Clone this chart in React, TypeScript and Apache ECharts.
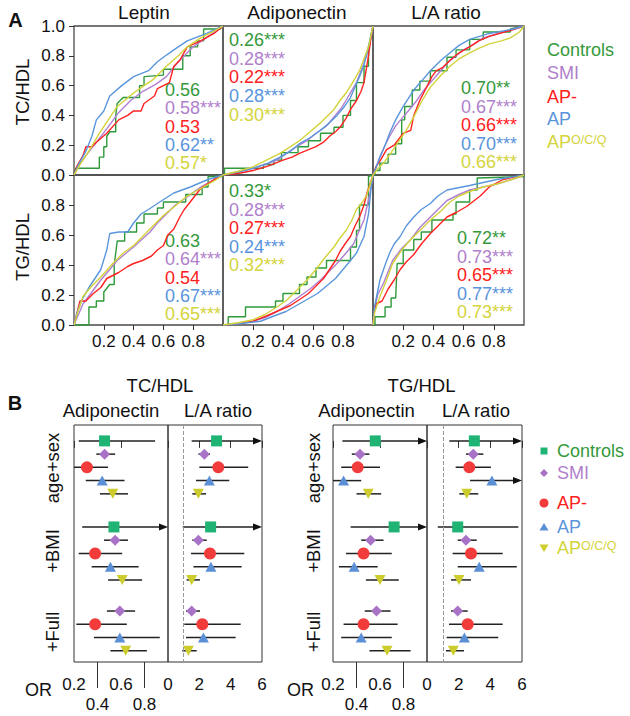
import React, { useEffect, useRef } from "react";
import * as echarts from "echarts";

const FONT = "'Liberation Sans', Arial, Helvetica, sans-serif";

// ---------- groups ----------
const groupNames = ["Controls", "SMI", "AP-", "AP", "APO/C/Q"];
const lineColors = ["#2f9a3a", "#b07fd0", "#ff2222", "#5a96dc", "#d2d23a"];
const textColors = ["#35993a", "#b07fcc", "#ff2020", "#5a94dc", "#d4d43c"];
const markerColors = ["#20b474", "#a872c6", "#f23c3c", "#5b8fd6", "#cccc2c"];
const markerSymbols = ["rect", "diamond", "circle", "triangle", "triangle"];

// ---------- panel A labels ----------
const panelTitlesA = ["Leptin", "Adiponectin", "L/A ratio"];
const rowTitlesA = ["TC/HDL", "TG/HDL"];
const xTicksA = [0.2, 0.4, 0.6, 0.8];
const yTicksRow1 = [0, 0.2, 0.4, 0.6, 0.8, 1];
const yTicksRow2 = [0, 0.2, 0.4, 0.6, 0.8];

// ---------- ROC curves [FPR, TPR] : Controls, SMI, AP-, AP, APO/C/Q ----------
const rocLeptinTC = [
  [[0,0],[0.01,0.045],[0.17,0.045],[0.17,0.12],[0.2,0.12],[0.2,0.19],[0.22,0.19],[0.22,0.26],[0.24,0.29],[0.28,0.29],[0.28,0.4],[0.29,0.48],[0.33,0.52],[0.44,0.52],[0.44,0.6],[0.47,0.6],[0.47,0.66],[0.6,0.67],[0.6,0.71],[0.73,0.71],[0.73,0.8],[0.78,0.8],[0.78,0.86],[0.83,0.86],[0.83,0.9],[0.87,0.9],[0.87,0.98],[0.98,0.98],[1,1]],
  [[0,0],[0.03,0.06],[0.08,0.13],[0.15,0.22],[0.22,0.31],[0.3,0.42],[0.38,0.5],[0.46,0.56],[0.55,0.61],[0.62,0.66],[0.7,0.76],[0.8,0.86],[0.9,0.93],[0.96,0.97],[1,1]],
  [[0,0],[0.02,0.06],[0.06,0.13],[0.08,0.19],[0.12,0.19],[0.15,0.22],[0.22,0.28],[0.3,0.37],[0.36,0.4],[0.4,0.43],[0.45,0.43],[0.47,0.48],[0.54,0.53],[0.56,0.58],[0.64,0.62],[0.67,0.73],[0.71,0.77],[0.76,0.86],[0.85,0.9],[0.94,0.95],[1,1]],
  [[0,0],[0.03,0.07],[0.08,0.16],[0.12,0.26],[0.15,0.37],[0.2,0.43],[0.24,0.53],[0.32,0.6],[0.4,0.66],[0.5,0.7],[0.56,0.76],[0.6,0.79],[0.67,0.84],[0.76,0.9],[0.89,0.95],[1,1]],
  [[0,0],[0.04,0.07],[0.1,0.16],[0.17,0.28],[0.23,0.37],[0.29,0.46],[0.4,0.55],[0.47,0.6],[0.53,0.64],[0.62,0.73],[0.7,0.8],[0.76,0.86],[0.85,0.92],[0.93,0.96],[1,1]],
];
const rocAdipTC = [
  [[0,0],[0.01,0],[0.01,0.045],[0.27,0.045],[0.27,0.07],[0.34,0.07],[0.34,0.1],[0.39,0.1],[0.39,0.15],[0.5,0.15],[0.5,0.19],[0.57,0.19],[0.57,0.23],[0.65,0.23],[0.65,0.28],[0.74,0.28],[0.74,0.32],[0.8,0.32],[0.8,0.4],[0.85,0.4],[0.85,0.5],[0.89,0.5],[0.89,0.62],[0.94,0.62],[0.94,0.73],[0.97,0.73],[0.97,0.84],[1,1]],
  [[0,0],[0.1,0.02],[0.2,0.045],[0.28,0.07],[0.36,0.1],[0.43,0.15],[0.49,0.19],[0.56,0.23],[0.62,0.28],[0.69,0.33],[0.74,0.39],[0.79,0.45],[0.82,0.5],[0.86,0.57],[0.89,0.62],[0.94,0.75],[0.98,0.88],[1,1]],
  [[0,0],[0.1,0.01],[0.2,0.03],[0.3,0.06],[0.4,0.1],[0.46,0.12],[0.51,0.145],[0.57,0.17],[0.62,0.19],[0.67,0.22],[0.71,0.26],[0.75,0.29],[0.78,0.32],[0.82,0.38],[0.85,0.44],[0.89,0.5],[0.92,0.56],[0.94,0.62],[0.97,0.8],[0.99,0.95],[1,1]],
  [[0,0],[0.1,0.02],[0.2,0.045],[0.3,0.08],[0.38,0.12],[0.45,0.16],[0.51,0.21],[0.58,0.25],[0.65,0.3],[0.71,0.35],[0.76,0.4],[0.81,0.46],[0.85,0.52],[0.88,0.59],[0.91,0.66],[0.94,0.74],[0.96,0.82],[1,1]],
  [[0,0],[0.1,0.025],[0.2,0.055],[0.29,0.1],[0.38,0.145],[0.45,0.19],[0.51,0.23],[0.58,0.29],[0.65,0.35],[0.7,0.4],[0.74,0.44],[0.78,0.5],[0.82,0.55],[0.87,0.63],[0.91,0.7],[0.94,0.78],[0.97,0.86],[1,1]],
];
const rocLATC = [
  [[0,0],[0.013,0],[0.013,0.03],[0.046,0.03],[0.046,0.08],[0.1,0.08],[0.1,0.14],[0.15,0.14],[0.15,0.21],[0.19,0.21],[0.19,0.37],[0.21,0.37],[0.21,0.46],[0.26,0.46],[0.26,0.57],[0.31,0.57],[0.31,0.63],[0.38,0.63],[0.38,0.7],[0.49,0.7],[0.49,0.79],[0.55,0.79],[0.55,0.84],[0.64,0.84],[0.64,0.91],[0.73,0.91],[0.73,0.96],[0.91,0.96],[0.91,0.98],[1,1]],
  [[0,0],[0.02,0.05],[0.046,0.12],[0.08,0.2],[0.11,0.26],[0.15,0.33],[0.2,0.39],[0.25,0.45],[0.29,0.5],[0.33,0.56],[0.38,0.62],[0.44,0.69],[0.49,0.75],[0.55,0.8],[0.6,0.84],[0.67,0.88],[0.73,0.92],[0.86,0.96],[1,1]],
  [[0,0],[0.02,0.056],[0.05,0.1],[0.09,0.17],[0.14,0.2],[0.2,0.28],[0.25,0.3],[0.27,0.4],[0.31,0.5],[0.35,0.58],[0.39,0.66],[0.42,0.7],[0.46,0.72],[0.51,0.77],[0.57,0.82],[0.64,0.86],[0.7,0.9],[0.77,0.93],[0.91,0.97],[1,1]],
  [[0,0],[0.02,0.05],[0.046,0.12],[0.08,0.2],[0.11,0.28],[0.15,0.37],[0.2,0.46],[0.27,0.57],[0.33,0.64],[0.38,0.7],[0.45,0.77],[0.51,0.82],[0.57,0.87],[0.64,0.91],[0.77,0.95],[0.93,0.98],[1,1]],
  [[0,0],[0.03,0.04],[0.07,0.08],[0.12,0.15],[0.16,0.21],[0.22,0.3],[0.27,0.39],[0.32,0.49],[0.38,0.59],[0.45,0.67],[0.51,0.73],[0.57,0.78],[0.64,0.82],[0.7,0.85],[0.77,0.88],[0.85,0.9],[0.91,0.92],[0.97,0.96],[1,1]],
];
const rocLeptinTG = [
  [[0,0],[0.1,0],[0.1,0.12],[0.15,0.12],[0.15,0.16],[0.2,0.16],[0.2,0.22],[0.24,0.27],[0.27,0.27],[0.27,0.4],[0.29,0.56],[0.34,0.56],[0.34,0.62],[0.42,0.62],[0.42,0.68],[0.47,0.68],[0.47,0.74],[0.56,0.74],[0.56,0.78],[0.6,0.78],[0.6,0.82],[0.75,0.82],[0.75,0.87],[0.86,0.87],[0.86,0.92],[0.9,0.92],[0.9,0.99],[1,0.99],[1,1]],
  [[0,0],[0.03,0.07],[0.06,0.14],[0.12,0.22],[0.18,0.3],[0.24,0.37],[0.29,0.43],[0.35,0.48],[0.4,0.52],[0.51,0.62],[0.56,0.68],[0.62,0.74],[0.68,0.8],[0.74,0.84],[0.85,0.92],[0.96,0.98],[1,1]],
  [[0,0],[0.02,0.08],[0.04,0.16],[0.08,0.16],[0.13,0.21],[0.18,0.25],[0.22,0.31],[0.3,0.35],[0.36,0.39],[0.4,0.41],[0.46,0.43],[0.52,0.46],[0.56,0.5],[0.6,0.53],[0.63,0.6],[0.67,0.64],[0.71,0.72],[0.74,0.77],[0.78,0.82],[0.85,0.91],[0.94,0.97],[1,1]],
  [[0,0],[0.02,0.08],[0.05,0.16],[0.1,0.25],[0.18,0.37],[0.22,0.5],[0.24,0.61],[0.3,0.62],[0.36,0.62],[0.4,0.68],[0.45,0.74],[0.5,0.77],[0.56,0.81],[0.67,0.88],[0.78,0.92],[0.9,0.97],[1,1]],
  [[0,0],[0.03,0.1],[0.06,0.19],[0.12,0.26],[0.18,0.32],[0.27,0.42],[0.33,0.48],[0.4,0.53],[0.47,0.6],[0.53,0.66],[0.6,0.73],[0.65,0.77],[0.76,0.86],[0.85,0.91],[0.94,0.96],[1,1]],
];
const rocAdipTG = [
  [[0,0],[0.035,0],[0.035,0.055],[0.15,0.055],[0.15,0.12],[0.35,0.12],[0.35,0.16],[0.4,0.16],[0.4,0.21],[0.51,0.21],[0.51,0.27],[0.56,0.27],[0.56,0.32],[0.62,0.32],[0.62,0.38],[0.69,0.38],[0.69,0.43],[0.85,0.43],[0.85,0.52],[0.89,0.52],[0.89,0.63],[0.91,0.63],[0.91,0.8],[0.97,0.8],[0.97,0.99],[1,1]],
  [[0,0],[0.1,0.01],[0.2,0.025],[0.28,0.05],[0.36,0.09],[0.44,0.14],[0.51,0.19],[0.58,0.24],[0.65,0.3],[0.71,0.36],[0.76,0.41],[0.82,0.48],[0.87,0.54],[0.9,0.61],[0.94,0.7],[0.98,0.88],[1,1]],
  [[0,0],[0.1,0.01],[0.2,0.025],[0.29,0.06],[0.38,0.1],[0.45,0.13],[0.51,0.17],[0.57,0.21],[0.62,0.26],[0.67,0.31],[0.71,0.37],[0.75,0.43],[0.78,0.49],[0.82,0.55],[0.85,0.59],[0.88,0.66],[0.91,0.72],[0.94,0.8],[0.96,0.88],[1,1]],
  [[0,0],[0.12,0.01],[0.25,0.025],[0.34,0.06],[0.42,0.09],[0.49,0.13],[0.56,0.17],[0.63,0.21],[0.69,0.26],[0.75,0.31],[0.8,0.37],[0.85,0.43],[0.89,0.48],[0.94,0.59],[0.97,0.74],[0.99,0.94],[1,1]],
  [[0,0],[0.1,0.015],[0.2,0.035],[0.28,0.07],[0.36,0.12],[0.43,0.17],[0.49,0.23],[0.56,0.3],[0.62,0.37],[0.68,0.45],[0.74,0.52],[0.78,0.58],[0.82,0.63],[0.86,0.7],[0.89,0.77],[0.93,0.82],[0.96,0.87],[1,1]],
];
const rocLATG = [
  [[0,0],[0.013,0],[0.013,0.055],[0.08,0.055],[0.08,0.12],[0.12,0.12],[0.12,0.18],[0.15,0.18],[0.16,0.41],[0.2,0.41],[0.2,0.5],[0.27,0.5],[0.27,0.57],[0.32,0.57],[0.32,0.62],[0.39,0.62],[0.39,0.7],[0.53,0.7],[0.53,0.74],[0.55,0.74],[0.55,0.82],[0.64,0.82],[0.64,0.9],[0.69,0.9],[0.69,0.98],[1,0.99],[1,1]],
  [[0,0],[0.01,0.1],[0.03,0.2],[0.07,0.28],[0.13,0.43],[0.19,0.51],[0.25,0.57],[0.31,0.65],[0.38,0.72],[0.44,0.78],[0.49,0.83],[0.57,0.87],[0.64,0.9],[0.73,0.92],[0.82,0.94],[0.95,0.98],[1,1]],
  [[0,0],[0.01,0.1],[0.02,0.14],[0.06,0.16],[0.1,0.24],[0.14,0.3],[0.18,0.37],[0.22,0.42],[0.27,0.47],[0.32,0.54],[0.38,0.61],[0.43,0.66],[0.49,0.72],[0.55,0.75],[0.62,0.79],[0.71,0.86],[0.77,0.92],[0.86,0.97],[1,1]],
  [[0,0],[0.01,0.12],[0.03,0.22],[0.046,0.3],[0.08,0.4],[0.11,0.48],[0.14,0.54],[0.18,0.59],[0.22,0.66],[0.27,0.72],[0.32,0.77],[0.38,0.81],[0.43,0.86],[0.49,0.9],[0.64,0.93],[0.82,0.97],[1,1]],
  [[0,0],[0.01,0.08],[0.046,0.19],[0.09,0.3],[0.13,0.41],[0.19,0.5],[0.25,0.57],[0.31,0.63],[0.38,0.7],[0.45,0.76],[0.51,0.82],[0.57,0.86],[0.64,0.89],[0.73,0.92],[0.82,0.94],[0.92,0.97],[1,1]],
];

// ---------- AUC labels ----------
const aucLeptinTC = ["0.56", "0.58***", "0.53", "0.62**", "0.57*"];
const aucAdipTC = ["0.26***", "0.28***", "0.22***", "0.28***", "0.30***"];
const aucLATC = ["0.70**", "0.67***", "0.66***", "0.70***", "0.66***"];
const aucLeptinTG = ["0.63", "0.64***", "0.54", "0.67***", "0.65***"];
const aucAdipTG = ["0.33*", "0.28***", "0.27***", "0.24***", "0.32***"];
const aucLATG = ["0.72**", "0.73***", "0.65***", "0.77***", "0.73***"];

// ---------- panel B: odds ratios [OR, lower, upper]; rows: model x group ----------
const modelNames = ["age+sex", "+BMI", "+Full"];
const forestTitles = ["TC/HDL", "TG/HDL"];
const forestPanels = ["Adiponectin", "L/A ratio"];
const adipTicksUpper = [0.2, 0.6];
const adipTicksLower = [0.4, 0.8];
const laTicks = [0, 2, 4, 6];

const tcAdip = [
  [0.46, 0.24, 0.89], [0.46, 0.39, 0.55], [0.31, 0.18, 0.49], [0.44, 0.3, 0.63], [0.53, 0.42, 0.66],
  [0.54, 0.27, 1.15], [0.55, 0.455, 0.66], [0.38, 0.24, 0.61], [0.51, 0.35, 0.75], [0.61, 0.49, 0.78],
  null, [0.59, 0.48, 0.72], [0.38, 0.22, 0.65], [0.59, 0.37, 0.93], [0.64, 0.51, 0.82],
];
const tcLA = [
  [3.1, 1.51, 7.5], [2.32, 1.94, 2.68], [3.21, 2.0, 5.12], [2.64, 1.79, 3.91], [1.94, 1.55, 2.43],
  [2.72, 0.94, 7.5], [1.94, 1.55, 2.47], [2.68, 1.47, 4.87], [2.74, 1.62, 4.7], [1.51, 1.19, 2.04],
  null, [1.51, 1.15, 2.04], [2.19, 1.04, 4.64], [2.26, 1.15, 4.32], [1.3, 0.91, 1.83],
];
const tgAdip = [
  [0.56, 0.28, 1.2], [0.43, 0.36, 0.51], [0.41, 0.27, 0.6], [0.29, 0.18, 0.44], [0.5, 0.4, 0.61],
  [0.72, 0.35, 1.2], [0.52, 0.44, 0.63], [0.46, 0.31, 0.7], [0.38, 0.25, 0.58], [0.6, 0.48, 0.76],
  null, [0.57, 0.47, 0.69], [0.46, 0.29, 0.75], [0.44, 0.27, 0.7], [0.66, 0.51, 0.86],
];
const tgLA = [
  [2.99, 1.41, 7.5], [2.92, 2.46, 3.56], [2.67, 1.81, 4.04], [4.1, 2.72, 7.5], [2.51, 2.04, 3.24],
  [1.94, 0.68, 5.77], [2.46, 1.94, 3.14], [2.78, 1.62, 4.78], [3.3, 1.94, 5.67], [2.02, 1.52, 2.78],
  null, [1.94, 1.52, 2.57], [2.57, 1.39, 4.78], [2.36, 1.24, 4.5], [1.66, 1.2, 2.34],
];

// ---------- layout ----------
const colLeftA = [74, 223, 373];
const colWidthA = [149, 150, 151];
const rowTopA = [26, 175];
const rowHeightA = [149, 150];
const aucPos = [
  [165, 90, 18.3], [229, 40, 18.7], [461, 88, 18.5],
  [165, 241, 18.3], [229, 191, 18.6], [457, 238, 18.5],
];
const modelBase = [0, 6.5, 11.85];
const forestTop = 425;
const forestHeight = 237;
const forestLefts = [[74, 168], [333, 427]];
const forestWidths = [[94, 94], [94, 95]];
const markerSizes: any[] = [11, 11, 12, [11, 10], [11, 10]];

function txt(x: number, y: number, text: string, o: any = {}) {
  return {
    type: "text", x, y, silent: true, rotation: o.rotation || 0,
    style: {
      text, fontSize: o.size || 18, fontFamily: FONT, fill: o.color || "#111",
      align: o.align || "center", verticalAlign: "middle", fontWeight: o.weight || "normal",
      rich: o.rich,
    },
  };
}

function legendText(x: number, y: number, g: number) {
  if (g === 4) {
    return txt(x, y, "{a|AP}{b|O/C/Q}", {
      align: "left", color: textColors[g],
      rich: {
        a: { fontSize: 18, fontFamily: FONT, fill: textColors[g] },
        b: { fontSize: 12.5, fontFamily: FONT, fill: textColors[g], verticalAlign: "top" },
      },
    });
  }
  return txt(x, y, groupNames[g], { align: "left", color: textColors[g] });
}

function buildOption() {
  const grid: any[] = [];
  const xAxis: any[] = [];
  const yAxis: any[] = [];
  const series: any[] = [];
  const graphic: any[] = [];

  const rocs = [rocLeptinTC, rocAdipTC, rocLATC, rocLeptinTG, rocAdipTG, rocLATG];
  const aucs = [aucLeptinTC, aucAdipTC, aucLATC, aucLeptinTG, aucAdipTG, aucLATG];

  // Panel A
  for (let r = 0; r < 2; r++) {
    for (let c = 0; c < 3; c++) {
      const idx = r * 3 + c;
      grid.push({
        left: colLeftA[c], top: rowTopA[r], width: colWidthA[c], height: rowHeightA[r],
        show: true, borderColor: "#4a4a4a", borderWidth: 1.3, backgroundColor: "transparent",
        outerBoundsMode: "none",
      });
      xAxis.push({
        type: "value", gridIndex: idx, position: "bottom", min: 0, max: 1, interval: 0.2, show: r === 1,
        axisLine: { show: false }, splitLine: { show: false },
        axisTick: { show: true, length: 5, customValues: xTicksA, lineStyle: { color: "#333" } },
        axisLabel: { customValues: xTicksA, fontSize: 17, fontFamily: FONT, color: "#111", margin: 8, formatter: (v: number) => v.toFixed(1) },
      });
      yAxis.push({
        type: "value", gridIndex: idx, position: "left", min: 0, max: 1, interval: 0.2, show: c === 0,
        axisLine: { show: false }, splitLine: { show: false },
        axisTick: { show: true, length: 5, customValues: r === 0 ? yTicksRow1 : yTicksRow2, lineStyle: { color: "#333" } },
        axisLabel: { customValues: r === 0 ? yTicksRow1 : yTicksRow2, fontSize: 17, fontFamily: FONT, color: "#111", margin: 9, formatter: (v: number) => v.toFixed(1) },
      });
      rocs[idx].forEach((curve, g) => {
        series.push({
          type: "line", xAxisIndex: idx, yAxisIndex: idx, data: curve, showSymbol: false,
          lineStyle: { color: lineColors[g], width: 1.4 }, itemStyle: { color: lineColors[g] },
          silent: true, z: 2 + g,
        });
      });
      const [ax, ay, ad] = aucPos[idx];
      aucs[idx].forEach((t, g) => {
        graphic.push(txt(ax, ay + g * ad, t, { align: "left", color: textColors[g], size: 18 }));
      });
    }
  }

  // Panel A titles & labels
  graphic.push(txt(15.5, 20, "A", { size: 20, weight: "bold" }));
  graphic.push(txt(144, 12.5, panelTitlesA[0], { size: 19 }));
  graphic.push(txt(297, 12.5, panelTitlesA[1], { size: 19 }));
  graphic.push(txt(446, 12.5, panelTitlesA[2], { size: 19 }));
  graphic.push(txt(22.5, 92, rowTitlesA[0], { size: 18.5, rotation: Math.PI / 2 }));
  graphic.push(txt(22.5, 247, rowTitlesA[1], { size: 18.5, rotation: Math.PI / 2 }));
  const legAy = [50, 72.5, 97, 119, 142];
  legAy.forEach((y, g) => graphic.push(legendText(547, y, g)));

  // Panel B
  const forestData = [[tcAdip, tcLA], [tgAdip, tgLA]];
  for (let f = 0; f < 2; f++) {
    for (let p = 0; p < 2; p++) {
      const gi = grid.length;
      grid.push({
        left: forestLefts[f][p], top: forestTop, width: forestWidths[f][p], height: forestHeight,
        show: true, borderColor: "#333", borderWidth: 1, backgroundColor: "transparent",
        outerBoundsMode: "none",
      });
      const yi = yAxis.length;
      yAxis.push({ type: "value", gridIndex: gi, inverse: true, min: -1.2, max: 16.7, show: false });
      let xi: number;
      if (p === 0) {
        xi = xAxis.length;
        xAxis.push({
          type: "value", gridIndex: gi, position: "bottom", offset: 0, min: 0.2, max: 1.0, interval: 0.2,
          axisLine: { show: false }, splitLine: { show: false },
          axisTick: { show: true, length: 7, customValues: adipTicksUpper, lineStyle: { color: "#333" } },
          axisLabel: { customValues: adipTicksUpper, fontSize: 17, fontFamily: FONT, color: "#111", margin: 14, formatter: (v: number) => v.toFixed(1) },
        });
        xAxis.push({
          type: "value", gridIndex: gi, position: "bottom", offset: 0, min: 0.2, max: 1.0, interval: 0.2,
          axisLine: { show: false }, splitLine: { show: false },
          axisTick: { show: true, length: 26, customValues: adipTicksLower, lineStyle: { color: "#333" } },
          axisLabel: { customValues: adipTicksLower, fontSize: 17, fontFamily: FONT, color: "#111", margin: 34, formatter: (v: number) => v.toFixed(1) },
        });
      } else {
        xi = xAxis.length;
        xAxis.push({
          type: "value", gridIndex: gi, position: "bottom", offset: 0, min: 0, max: 6, interval: 2,
          axisLine: { show: false }, splitLine: { show: false },
          axisTick: { show: true, length: 7, customValues: laTicks, lineStyle: { color: "#333" } },
          axisLabel: { customValues: laTicks, fontSize: 17, fontFamily: FONT, color: "#111", margin: 14 },
        });
      }
      const rows = forestData[f][p];
      const ciData: any[] = [];
      rows.forEach((row, k) => {
        if (!row) return;
        const m = Math.floor(k / 5);
        const g = k % 5;
        ciData.push([row[1], row[2], modelBase[m] + g]);
      });
      series.push({
        type: "custom", xAxisIndex: xi, yAxisIndex: yi, z: 2, silent: true,
        encode: { x: [0, 1], y: 2 },
        renderItem: (params: any, api: any) => {
          const cs = params.coordSys;
          const a = api.coord([api.value(0), api.value(2)]);
          const b = api.coord([api.value(1), api.value(2)]);
          const left = cs.x;
          const right = cs.x + cs.width;
          const x1 = Math.max(a[0], left);
          const over = b[0] > right + 0.5;
          const x2 = Math.min(b[0], right);
          const y = a[1];
          const children: any[] = [
            { type: "line", shape: { x1, y1: y, x2: over ? x2 - 5 : x2, y2: y }, style: { stroke: "#222", lineWidth: 1.5 } },
          ];
          if (over) {
            children.push({
              type: "polygon",
              shape: { points: [[x2, y], [x2 - 9, y - 3.5], [x2 - 9, y + 3.5]] },
              style: { fill: "#111" },
            });
          }
          return { type: "group", children };
        },
        data: ciData,
      });
      for (let g = 0; g < 5; g++) {
        const pts: any[] = [];
        for (let m = 0; m < 3; m++) {
          const row = rows[m * 5 + g];
          if (row) pts.push([row[0], modelBase[m] + g]);
        }
        const s: any = {
          type: "scatter", xAxisIndex: xi, yAxisIndex: yi, data: pts, z: 3, silent: true,
          symbol: markerSymbols[g], symbolSize: markerSizes[g], symbolRotate: g === 4 ? 180 : 0,
          itemStyle: { color: markerColors[g], opacity: 1 },
        };
        if (p === 1 && g === 0) {
          s.markLine = {
            silent: true, symbol: ["none", "none"], label: { show: false },
            lineStyle: { type: "dashed", color: "#999", width: 1 },
            data: [{ xAxis: 1 }],
          };
        }
        series.push(s);
      }
    }
  }

  // Panel B labels
  graphic.push(txt(15, 403, "B", { size: 20, weight: "bold" }));
  graphic.push(txt(160, 385, forestTitles[0], { size: 18.5 }));
  graphic.push(txt(111, 410, forestPanels[0], { size: 18.5 }));
  graphic.push(txt(218, 410, forestPanels[1], { size: 18.5 }));
  graphic.push(txt(421.5, 385, forestTitles[1], { size: 18.5 }));
  graphic.push(txt(366.5, 410, forestPanels[0], { size: 18.5 }));
  graphic.push(txt(476, 410, forestPanels[1], { size: 18.5 }));
  const modelY = [468, 551, 632];
  modelNames.forEach((n, m) => {
    graphic.push(txt(52.5, modelY[m], n, { size: 18.5, rotation: Math.PI / 2 }));
    graphic.push(txt(313, modelY[m], n, { size: 18.5, rotation: Math.PI / 2 }));
  });
  graphic.push(txt(25, 690, "OR", { size: 18, align: "left" }));
  graphic.push(txt(287, 690, "OR", { size: 18, align: "left" }));

  // Panel B legend
  const legBy = [451, 473, 503, 527, 548];
  const sx = 544;
  graphic.push({ type: "rect", silent: true, shape: { x: sx - 3.5, y: legBy[0] - 3.5, width: 7, height: 7 }, style: { fill: markerColors[0] } });
  graphic.push({ type: "polygon", silent: true, shape: { points: [[sx, legBy[1] - 4], [sx + 4, legBy[1]], [sx, legBy[1] + 4], [sx - 4, legBy[1]]] }, style: { fill: markerColors[1] } });
  graphic.push({ type: "circle", silent: true, shape: { cx: sx, cy: legBy[2], r: 4.5 }, style: { fill: markerColors[2] } });
  graphic.push({ type: "polygon", silent: true, shape: { points: [[sx, legBy[3] - 4], [sx + 4.5, legBy[3] + 3.5], [sx - 4.5, legBy[3] + 3.5]] }, style: { fill: markerColors[3] } });
  graphic.push({ type: "polygon", silent: true, shape: { points: [[sx, legBy[4] + 4], [sx + 4.5, legBy[4] - 3.5], [sx - 4.5, legBy[4] - 3.5]] }, style: { fill: markerColors[4] } });
  legBy.forEach((y, g) => graphic.push(legendText(557, y, g)));

  return {
    animation: false,
    backgroundColor: "#ffffff",
    textStyle: { fontFamily: FONT },
    grid, xAxis, yAxis, series, graphic,
  };
}

export default function App() {
  const ref = useRef<HTMLDivElement>(null);
  useEffect(() => {
    if (!ref.current) return;
    const chart = echarts.init(ref.current, undefined, { renderer: "svg" });
    chart.setOption(buildOption() as any);
    return () => chart.dispose();
  }, []);
  return (
    <div
      ref={ref}
      style={{ position: "fixed", left: 0, top: 0, width: 630, height: 716, background: "#fff" }}
    />
  );
}
